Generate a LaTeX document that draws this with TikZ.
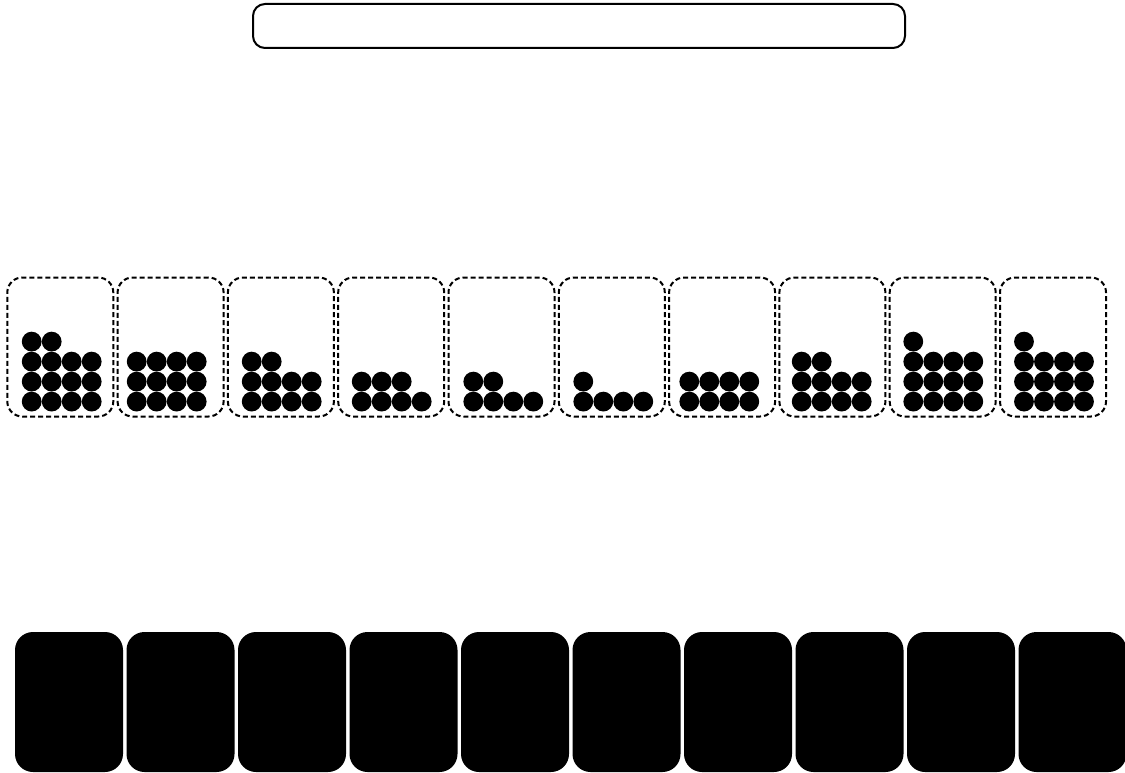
\documentclass[tikz,border=0pt]{standalone}
\begin{document}
\begin{tikzpicture}[x=1pt,y=-1pt,
  topbar/.style={draw=black,line width=2pt,rounded corners=12pt,minimum width=652pt,minimum height=44pt,inner sep=0pt},
  trayBox/.style={draw=black,line width=2pt,dash pattern=on 5pt off 3pt,rounded corners=15pt,minimum width=106pt,minimum height=139pt,inner sep=0pt},
  cardBox/.style={fill=black,draw=none,rounded corners=18pt,minimum width=108pt,minimum height=140pt,inner sep=0pt},
  counter/.style={fill=black}]
\useasboundingbox (0,0) rectangle (1125,773);
\node[topbar] (bar) at (579,26) {};
\foreach \i/\dx/\rows in {1/31.7/{4,4,4,2},2/136.7/{4,4,4},3/251.7/{4,4,2},4/361.7/{4,3},5/473.3/{4,2},6/583.3/{4,1},7/689.3/{4,4},8/801.7/{4,4,2},9/913.3/{4,4,4,1},10/1024/{4,4,4,1}}{
  \node[trayBox] (tray\i) at ({7.3+110.3*(\i-1)+53},347) {};
  \foreach \n [count=\r] in \rows {
    \foreach \k in {1,...,\n} {
      \fill[counter] ({\dx+20*(\k-1)},{401.6-20*(\r-1)}) circle (9.9);
    }
  }
  \node[cardBox] (card\i) at ({15+111.5*(\i-1)+54},702) {};
}
\end{tikzpicture}
\end{document}
